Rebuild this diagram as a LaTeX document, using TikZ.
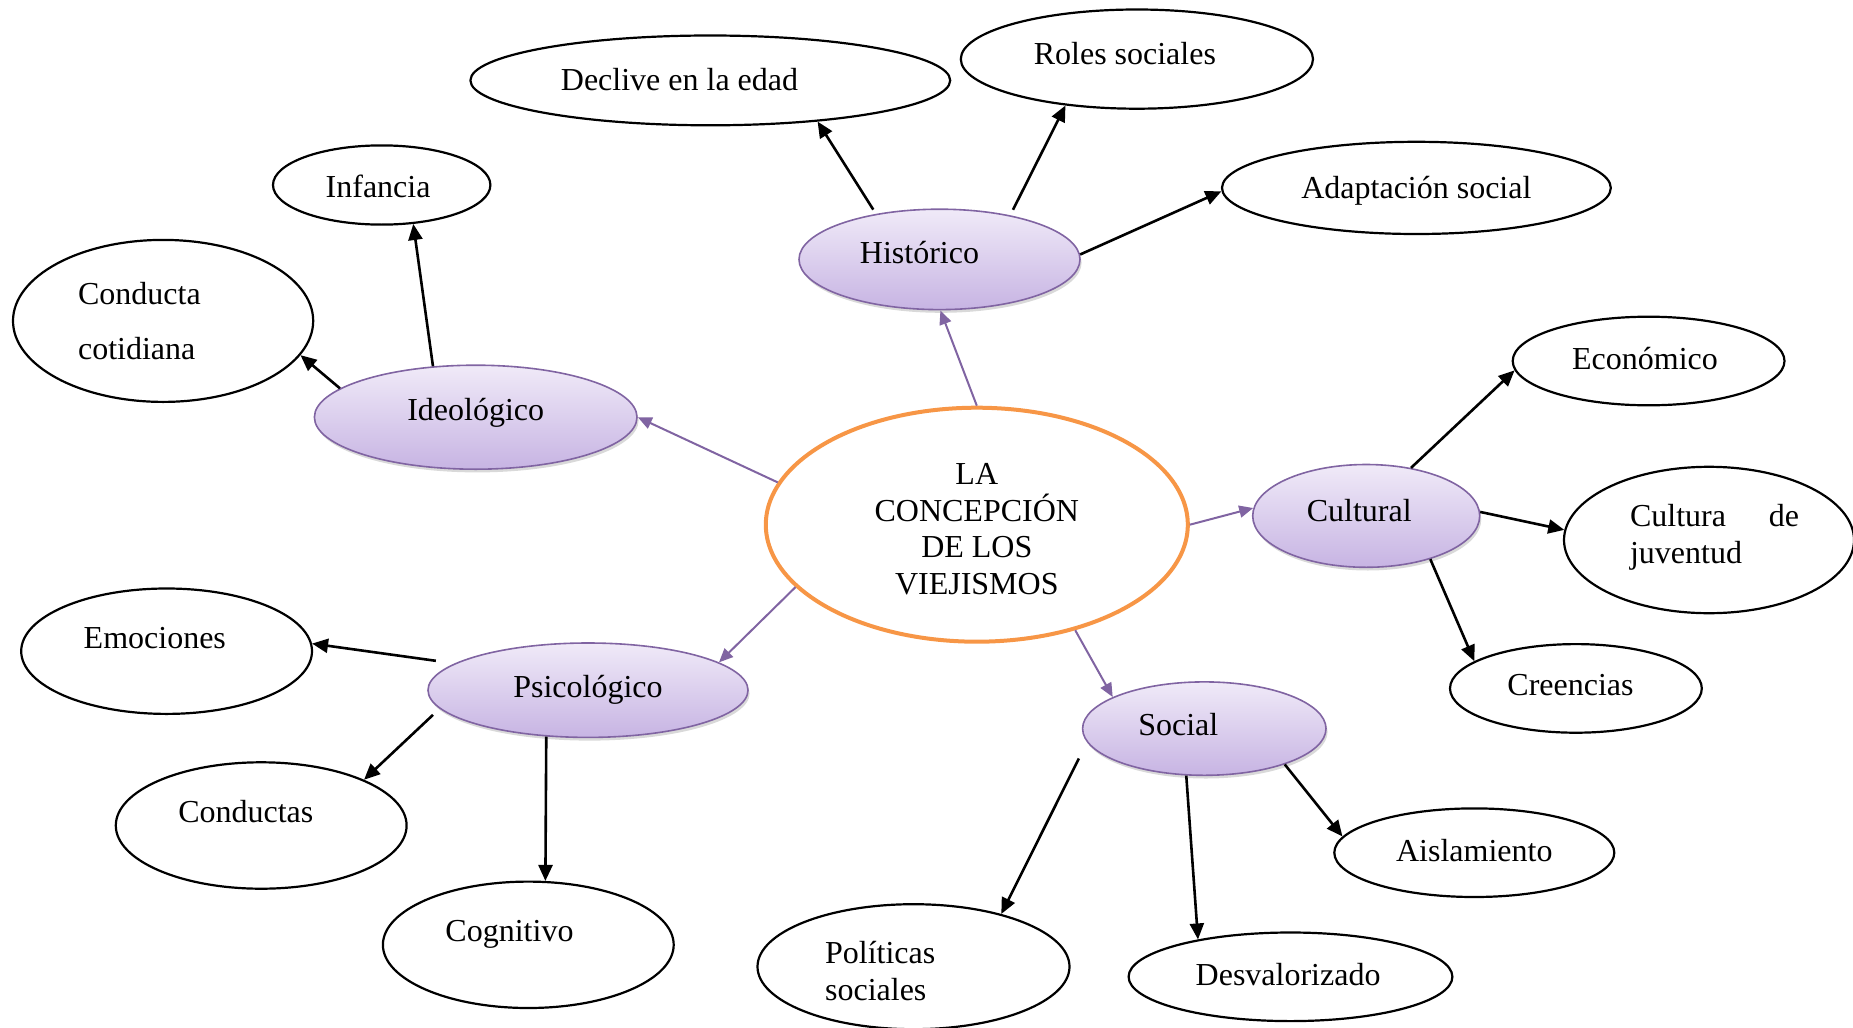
\documentclass[tikz,border=0pt]{standalone}
\usepackage{fontspec}
\setmainfont{Liberation Serif}
\usetikzlibrary{arrows.meta,shadows,shapes.geometric}
\definecolor{purp}{RGB}{128,100,162}
\definecolor{orng}{RGB}{247,150,70}
\definecolor{lavtop}{RGB}{240,234,248}
\definecolor{lavbot}{RGB}{199,180,227}
\newcommand{\ctx}[3]{\makebox[0pt][c]{\hspace*{\dimexpr #1*2\relax}\raisebox{\dimexpr #2-0.33em\relax}{#3}}}
\newcommand{\ltx}[3]{\makebox[0pt][l]{\hspace*{#1}\raisebox{\dimexpr #2-0.33em\relax}{#3}}}
\tikzset{
 base/.style={ellipse, inner sep=0pt, text height=0pt, text depth=0pt, font=\fontsize{16pt}{18pt}\selectfont},
 mainnode/.style={base, draw=orng, line width=2pt, fill=white},
 cat/.style={base, draw=purp, line width=0.8pt, top color=lavtop, bottom color=lavbot,
   drop shadow={shadow xshift=0.8pt, shadow yshift=-1.6pt, opacity=0.3}},
 leaf/.style={base, draw=black, line width=1.1pt, fill=white},
 parr/.style={draw=purp, line width=1pt, -{Triangle[length=7pt,width=6pt]}},
 barr/.style={draw=black, line width=1.3pt, -{Triangle[length=8pt,width=7pt]}},
}
\begin{document}
\begin{tikzpicture}[x=0.5pt,y=-0.5pt]
\useasboundingbox (0,0) rectangle (1853,1028);
% central
\node[mainnode, minimum width=211pt, minimum height=117pt] (c) at (976.8,524.7)
 {\ctx{0pt}{25.4pt}{LA}\ctx{0pt}{7.1pt}{CONCEPCIÓN}\ctx{0pt}{-11.3pt}{DE LOS}\ctx{0pt}{-29.6pt}{VIEJISMOS}};
% categories
\node[cat, minimum width=140.5pt, minimum height=50.2pt] (hist) at (939.5,259.4) {\ctx{-10pt}{3.2pt}{Histórico}};
\node[cat, minimum width=161.3pt, minimum height=52pt] (ideo) at (475.7,417.2) {\ctx{0pt}{3.5pt}{Ideológico}};
\node[cat, minimum width=113.5pt, minimum height=51.4pt] (cult) at (1366.2,515.9) {\ctx{-3.5pt}{2.7pt}{Cultural}};
\node[cat, minimum width=160pt, minimum height=47.2pt] (psic) at (588,690.2) {\ctx{0pt}{1.8pt}{Psicológico}};
\node[cat, minimum width=121.7pt, minimum height=46.7pt] (soc) at (1204.3,728.6) {\ctx{-13pt}{2pt}{Social}};
% leaves
\node[leaf, minimum width=239.9pt, minimum height=44.9pt] (decl) at (710.3,80.4) {\ctx{-15.4pt}{0pt}{Declive en la edad}};
\node[leaf, minimum width=176.1pt, minimum height=49.6pt] (roles) at (1136.9,59.1) {\ctx{-6pt}{2.4pt}{Roles sociales}};
\node[leaf, minimum width=194.4pt, minimum height=46.1pt] (adapt) at (1416.4,187.9) {\ctx{0pt}{0pt}{Adaptación social}};
\node[leaf, minimum width=108.7pt, minimum height=39.6pt] (inf) at (381.7,185) {\ctx{-1.8pt}{-0.9pt}{Infancia}};
\node[leaf, minimum width=150.1pt, minimum height=81pt] (cc) at (163.1,320.9)
 {\ltx{-42.5pt}{13.3pt}{Conducta}\ltx{-42.5pt}{-13.8pt}{cotidiana}};
\node[leaf, minimum width=135.9pt, minimum height=44.3pt] (econ) at (1648.6,361) {\ctx{-1.8pt}{0.9pt}{Económico}};
\node[leaf, minimum width=145pt, minimum height=73.2pt] (juv) at (1709,540)
 {\ltx{-39.5pt}{11.8pt}{\makebox[84.5pt][s]{Cultura\hfill de}}\ltx{-39.5pt}{-6.5pt}{juventud}};
\node[leaf, minimum width=125.9pt, minimum height=44.3pt] (cree) at (1575.9,688.4) {\ctx{-2.7pt}{1.5pt}{Creencias}};
\node[leaf, minimum width=145.4pt, minimum height=62.7pt] (emoc) at (166.6,651.2) {\ctx{-5.9pt}{6.5pt}{Emociones}};
\node[leaf, minimum width=145.4pt, minimum height=63.2pt] (conds) at (261.2,825.5) {\ctx{-7.7pt}{6.8pt}{Conductas}};
\node[leaf, minimum width=145.4pt, minimum height=63.2pt] (cogn) at (528.3,944.8) {\ctx{-9.4pt}{6.8pt}{Cognitivo}};
\node[leaf, minimum width=156pt, minimum height=62.5pt] (pol) at (913.5,966.7)
 {\ltx{-44.2pt}{7.1pt}{Políticas}\ltx{-44.2pt}{-11.8pt}{sociales}};
\node[leaf, minimum width=161.9pt, minimum height=44.3pt] (desv) at (1290.5,976.8) {\ctx{-1.2pt}{0.9pt}{Desvalorizado}};
\node[leaf, minimum width=140pt, minimum height=44.3pt] (aisl) at (1474.3,852.7) {\ctx{0pt}{0.9pt}{Aislamiento}};
% purple connectors
\draw[parr] (c.90.4) -- (hist.271.3);
\draw[parr] (c.168) -- (ideo.0);
\draw[parr] (c.0) -- (cult.176.7);
\draw[parr] (c.199.4) -- (psic.12.1);
\draw[parr] (c.313.9) -- (soc.161.9);
% black connectors
\draw[barr] ([xshift=-2.6pt,yshift=1.9pt]hist.143.5) -- (decl.339.5);
\draw[barr] ([xshift=3.4pt,yshift=2.3pt]hist.34.2) -- (roles.213.7);
\draw[barr] (hist.2.6) -- (adapt.181.4);
\draw[barr] (ideo.130.1) -- (inf.309.3);
\draw[barr] (ideo.168.2) -- (cc.346.4);
\draw[barr] (cult.47.6) -- (econ.184.3);
\draw[barr] (cult.2.7) -- (juv.176.3);
\draw[barr] (cult.326.7) -- (cree.165);
\draw[barr] ([xshift=-8.7pt,yshift=1.6pt]psic.169.6) -- (emoc.3.3);
\draw[barr] ([xshift=-6.5pt,yshift=-1.1pt]psic.189.1) -- (conds.24.8);
\draw[barr] (psic.228.2) -- (cogn.75.6);
\draw[barr] ([xshift=-11.2pt,yshift=-2.1pt]soc.194) -- (pol.31.4);
\draw[barr] (soc.249.6) -- (desv.158);
\draw[barr] (soc.336.6) -- (aisl.173.5);
\end{tikzpicture}
\end{document}
